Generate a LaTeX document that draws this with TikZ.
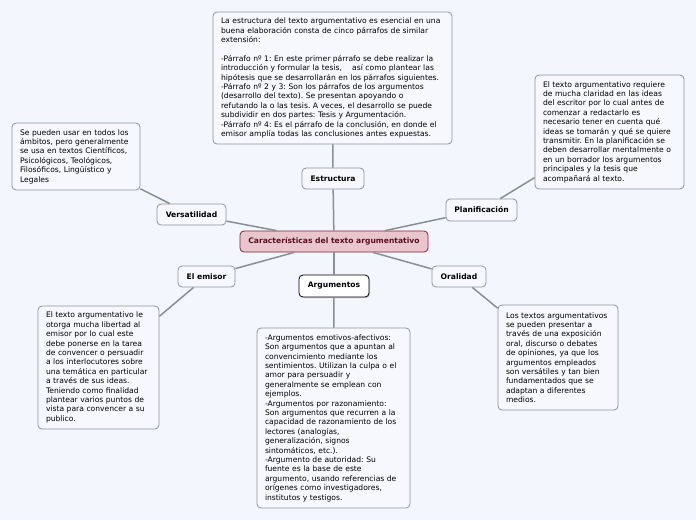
\documentclass[tikz,border=0pt]{standalone}
\usepackage{fontspec}
\setmainfont{DejaVu Sans}
\usetikzlibrary{shadows}

\definecolor{fondo}{HTML}{F3F6FD}
\definecolor{caja}{HTML}{F6F8FE}
\definecolor{borde}{HTML}{8E939C}
\definecolor{linea}{HTML}{8A8E96}
\definecolor{rojo}{HTML}{8A1F33}
\definecolor{rosa}{HTML}{E8C6CB}
\definecolor{vino}{HTML}{5A0E1C}

\begin{document}
\frenchspacing
\begin{tikzpicture}[x=1pt,y=-1pt]

        \fill[fondo] (0,0) rectangle (696,520);
        \useasboundingbox (0,0) rectangle (696,520);

        \tikzset{
            nota/.style={draw=borde,fill=caja,rounded corners=4pt,line width=0.8pt,
                align=left,inner xsep=8pt,inner ysep=0pt,
                font=\fontsize{7.6}{9.4}\selectfont\frenchspacing},
            tema/.style={draw=borde,fill=caja,rounded corners=4pt,line width=0.8pt,
                inner sep=0pt,font=\fontsize{7.6}{9}\selectfont\bfseries},
            link/.style={draw=linea,line width=1.5pt}
        }

        % central topic
        \node[tema,draw=rojo,fill=rosa,text=vino,minimum width=188pt,minimum height=21pt]
            (raiz) at (334,241.5) {Características del texto argumentativo};

        % main topics
        \node[tema,minimum width=62pt,minimum height=21pt] (estr) at (333,178.5) {Estructura};
        \node[tema,minimum width=69pt,minimum height=21pt] (vers) at (191.5,214.5) {Versatilidad};
        \node[tema,minimum width=71pt,minimum height=22pt] (plan) at (481.5,210) {Planificación};
        \node[tema,minimum width=57pt,minimum height=21pt] (emi) at (206.5,276.5) {El emisor};
        \node[tema,draw=black,fill=white,drop shadow={opacity=0.35,shadow xshift=1.2pt,shadow yshift=-1.2pt},
            minimum width=70pt,minimum height=22pt] (arg) at (334,286) {Argumentos};
        \node[tema,minimum width=54pt,minimum height=21pt] (oral) at (459,276.5) {Oralidad};

        % notes
        \node[nota,text width=223pt,minimum height=132pt] (estrtxt) at (332.5,78) {%
            La estructura del texto argumentativo es esencial en una\\
            buena elaboración consta de cinco párrafos de similar\\
            extensión:\\[9.4pt]
            -Párrafo nº 1: En este primer párrafo se debe realizar la\\
            introducción y formular la tesis,\ \ \ \ así como plantear las\\
            hipótesis que se desarrollarán en los párrafos siguientes.\\
            -Párrafo nº 2 y 3: Son los párrafos de los argumentos\\
            (desarrollo del texto). Se presentan apoyando o\\
            refutando la o las tesis. A veces, el desarrollo se puede\\
            subdividir en dos partes: Tesis y Argumentación.\\
            -Párrafo nº 4: Es el párrafo de la conclusión, en donde el\\
            emisor amplía todas las conclusiones antes expuestas.};

        \node[nota,text width=112pt,minimum height=67pt] (verstxt) at (76,156.5) {%
            Se pueden usar en todos los\\
            ámbitos, pero generalmente\\
            se usa en textos Científicos,\\
            Psicológicos, Teológicos,\\
            Filosóficos, Lingüístico y\\
            Legales};

        \node[nota,text width=133pt,minimum height=114pt] (plantxt) at (609.5,132) {%
            El texto argumentativo requiere\\
            de mucha claridad en las ideas\\
            del escritor por lo cual antes de\\
            comenzar a redactarlo es\\
            necesario tener en cuenta qué\\
            ideas se tomarán y qué se quiere\\
            transmitir. En la planificación se\\
            deben desarrollar mentalmente o\\
            en un borrador los argumentos\\
            principales y la tesis que\\
            acompañará al texto.};

        \node[nota,text width=105pt,minimum height=123pt] (emitxt) at (98.5,367.5) {%
            El texto argumentativo le\\
            otorga mucha libertad al\\
            emisor por lo cual este\\
            debe ponerse en la tarea\\
            de convencer o persuadir\\
            a los interlocutores sobre\\
            una temática en particular\\
            a través de sus ideas.\\
            Teniendo como finalidad\\
            plantear varios puntos de\\
            vista para convencer a su\\
            publico.};

        \node[nota,text width=137pt,minimum height=180pt] (argtxt) at (333.5,418) {%
            -Argumentos emotivos-afectivos:\\
            Son argumentos que a apuntan al\\
            convencimiento mediante los\\
            sentimientos. Utilizan la culpa o el\\
            amor para persuadir y\\
            generalmente se emplean con\\
            ejemplos.\\
            -Argumentos por razonamiento:\\
            Son argumentos que recurren a la\\
            capacidad de razonamiento de los\\
            lectores (analogías,\\
            generalización, signos\\
            sintomáticos, etc.).\\
            -Argumento de autoridad: Su\\
            fuente es la base de este\\
            argumento, usando referencias de\\
            orígenes como investigadores,\\
            institutos y testigos.};

        \node[nota,text width=104pt,minimum height=105pt] (oraltxt) at (558,357.5) {%
            Los textos argumentativos\\
            se pueden presentar a\\
            través de una exposición\\
            oral, discurso o debates\\
            de opiniones, ya que los\\
            argumentos empleados\\
            son versátiles y tan bien\\
            fundamentados que se\\
            adaptan a diferentes\\
            medios.};

        % connectors
        \foreach \t in {estr,vers,plan,emi,arg,oral}
            \draw[link] (raiz) -- (\t);
        \draw[link] (estr) -- (estrtxt);
        \draw[link] (vers) -- (verstxt);
        \draw[link] (plan) -- (plantxt);
        \draw[link] (emi) -- (emitxt);
        \draw[link] (arg) -- (argtxt);
        \draw[link] (oral) -- (oraltxt);
    \end{tikzpicture}
\end{document}
